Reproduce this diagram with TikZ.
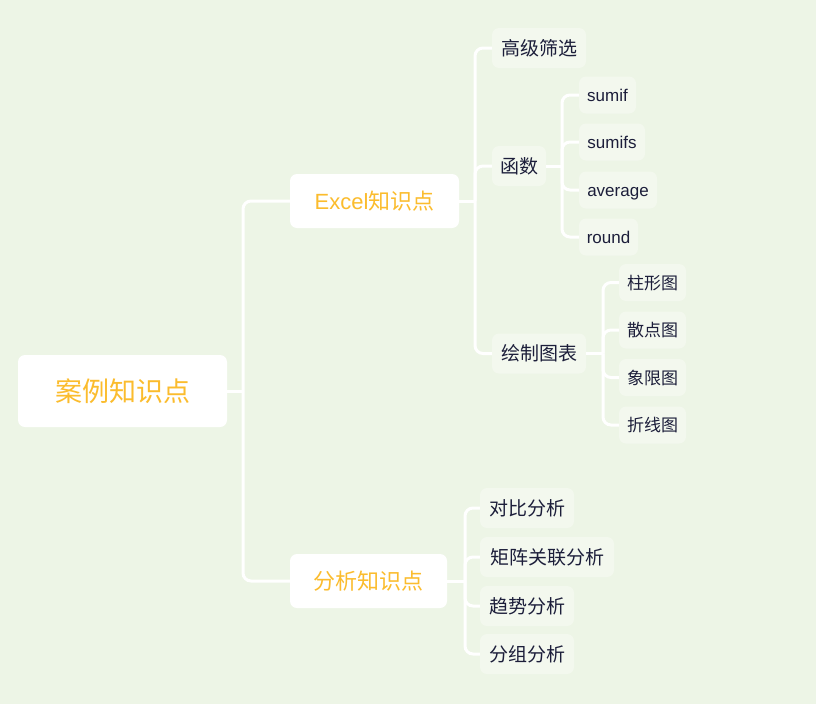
\documentclass[tikz,border=0pt]{standalone}
\usepackage{fontspec}
\setmainfont{Noto Sans CJK SC}
\newfontfamily\lat{Liberation Sans}
\definecolor{bgc}{RGB}{237,245,230}
\definecolor{leafc}{RGB}{243,248,238}
\definecolor{orng}{RGB}{251,188,45}
\definecolor{darkt}{RGB}{28,30,58}
\tikzset{
  base/.style={rounded corners=7pt, inner sep=0pt, anchor=center},
  rootbox/.style={base, fill=white, text=orng, font=\fontsize{27}{30}\selectfont, text height=23.8pt, text depth=3.2pt},
  midbox/.style={base, fill=white, text=orng, font=\fontsize{22}{26}\selectfont, text height=19.4pt, text depth=2.6pt},
  lvtwo/.style={base, fill=leafc, text=darkt, font=\fontsize{19}{22}\selectfont, minimum height=40pt, text height=16.7pt, text depth=2.3pt},
  lvthree/.style={base, fill=leafc, text=darkt, font=\fontsize{17}{20}\selectfont, minimum height=37pt, text height=15pt, text depth=2pt},
  conn/.style={draw=white, line width=3pt, rounded corners=8pt}
}
\begin{document}
\begin{tikzpicture}[x=1pt,y=-1pt]
\fill[bgc] (0,0) rectangle (816,704);
\useasboundingbox (0,0) rectangle (816,704);
% root and second level
\node[rootbox, minimum width=209pt, minimum height=72pt] (r) at (122.5,391) {案例知识点};
\node[midbox, minimum width=169pt, minimum height=54pt] (e) at (374.5,201) {{\lat Excel}知识点};
\node[midbox, minimum width=157pt, minimum height=54pt] (a) at (368.5,581) {分析知识点};
% excel children
\node[lvtwo, minimum width=94pt] (g) at (539,48) {高级筛选};
\node[lvtwo, minimum width=54pt] (f) at (519,166) {函数};
\node[lvtwo, minimum width=94pt] (c) at (539,353.5) {绘制图表};
% function children
\node[lvthree, minimum width=57pt] (f1) at (607.5,95) {\lat sumif};
\node[lvthree, minimum width=66pt] (f2) at (612,142) {\lat sumifs};
\node[lvthree, minimum width=78pt] (f3) at (618,190) {\lat average};
\node[lvthree, minimum width=59pt] (f4) at (608.5,237) {\lat round};
% chart children
\node[lvthree, minimum width=67pt] (c1) at (652.5,282.5) {柱形图};
\node[lvthree, minimum width=67pt] (c2) at (652.5,330) {散点图};
\node[lvthree, minimum width=67pt] (c3) at (652.5,377.5) {象限图};
\node[lvthree, minimum width=67pt] (c4) at (652.5,425) {折线图};
% analysis children
\node[lvtwo, minimum width=94pt] (a1) at (527,508) {对比分析};
\node[lvtwo, minimum width=134pt] (a2) at (547,557) {矩阵关联分析};
\node[lvtwo, minimum width=94pt] (a3) at (527,606) {趋势分析};
\node[lvtwo, minimum width=94pt] (a4) at (527,654) {分组分析};
% junction coordinates
\coordinate (tr) at (243,391);
\coordinate (te) at (475,201);
\coordinate (tf) at (562,166);
\coordinate (tc) at (603,353.5);
\coordinate (ta) at (465,581);
% connectors
\draw[conn] (r.east) -- (tr);
\draw[conn] (e.west) -| (tr);
\draw[conn] (a.west) -| (tr);
\draw[conn] (e.east) -- (te);
\draw[conn] (g.west) -| (te);
\draw[conn] (f.west) -| (te);
\draw[conn] (c.west) -| (te);
\draw[conn] (f.east) -- (tf);
\draw[conn] (f1.west) -| (tf);
\draw[conn] (f2.west) -| (tf);
\draw[conn] (f3.west) -| (tf);
\draw[conn] (f4.west) -| (tf);
\draw[conn] (c.east) -- (tc);
\draw[conn] (c1.west) -| (tc);
\draw[conn] (c2.west) -| (tc);
\draw[conn] (c3.west) -| (tc);
\draw[conn] (c4.west) -| (tc);
\draw[conn] (a.east) -- (ta);
\draw[conn] (a1.west) -| (ta);
\draw[conn] (a2.west) -| (ta);
\draw[conn] (a3.west) -| (ta);
\draw[conn] (a4.west) -| (ta);
\end{tikzpicture}
\end{document}
